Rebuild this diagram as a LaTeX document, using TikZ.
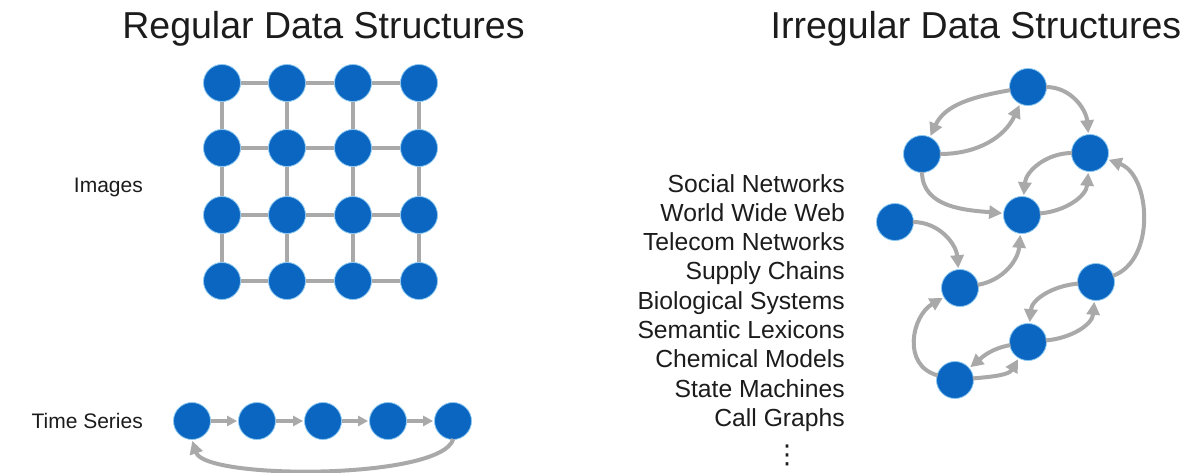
\documentclass[tikz,border=0pt]{standalone}
\usepackage{fontspec}
\setmainfont{Liberation Sans}
\newfontfamily\symfont{DejaVu Sans}
\usetikzlibrary{arrows.meta}
\definecolor{nodeblue}{HTML}{0B66C2}
\definecolor{halo}{HTML}{8CC8F0}
\definecolor{edgegray}{HTML}{A9A9A9}
\definecolor{txt}{HTML}{1C1C1C}
\begin{document}
\begin{tikzpicture}[x=1pt,y=1pt,
  dot/.style={circle,fill=nodeblue,draw=halo,line width=0.8pt,minimum size=37pt,inner sep=0pt},
  gridline/.style={draw=edgegray,line width=4pt},
  arr/.style={draw=edgegray,line width=4pt,-{Triangle[length=13pt,width=13pt]},shorten >=1pt,shorten <=-1pt},
  arrs/.style={draw=edgegray,line width=3.5pt,-{Triangle[length=10pt,width=10pt]},shorten >=1pt},
  title/.style={font=\fontsize{37.5}{40}\selectfont,text=txt,inner sep=0pt,anchor=base},
  lbl/.style={font=\fontsize{21}{24}\selectfont,text=txt,inner sep=0pt,anchor=base east},
  item/.style={font=\fontsize{24.7}{28}\selectfont,text=txt,inner sep=0pt,anchor=base east}]
\fill[white] (0,0) rectangle (1188,-472);
\useasboundingbox (0,0) rectangle (1188,-472);

% titles
\node[title] (t-reg) at (323.5,-38) {Regular Data Structures};
\node[title] (t-irr) at (976,-38) {Irregular Data Structures};

% labels
\node[lbl] (l-img) at (143,-192) {Images};
\node[lbl] (l-ts) at (143,-428.5) {Time Series};

% grid
\foreach \i/\x in {1/222,2/287,3/353,4/419}
  \foreach \j/\y in {1/83,2/148,3/215,4/281}
    \node[dot] (g\i\j) at (\x,-\y) {};
\foreach \j in {1,2,3,4}{
  \draw[gridline] (g1\j) -- (g2\j);
  \draw[gridline] (g2\j) -- (g3\j);
  \draw[gridline] (g3\j) -- (g4\j);
  \draw[gridline] (g\j1) -- (g\j2);
  \draw[gridline] (g\j2) -- (g\j3);
  \draw[gridline] (g\j3) -- (g\j4);
}

% time series
\foreach \k/\x in {1/192,2/257,3/323,4/388,5/453}
  \node[dot] (ts\k) at (\x,-421) {};
\draw[arrs] (ts1) -- (ts2);
\draw[arrs] (ts2) -- (ts3);
\draw[arrs] (ts3) -- (ts4);
\draw[arrs] (ts4) -- (ts5);
\draw[arr] (ts5.south) .. controls (442,-480) and (205,-480) .. (ts1.south);

% list
\foreach \t [count=\n from 0] in {Social Networks,World Wide Web,Telecom Networks,Supply Chains,Biological Systems,Semantic Lexicons,Chemical Models,State Machines,Call Graphs}
  \node[item] (it\n) at (845,-192-29.3*\n) {\t};
\node[text=txt,inner sep=0pt,font=\symfont\fontsize{26}{28}\selectfont] (vd) at (787,-455) {⋮};

% irregular graph
\node[dot] (nA) at (1028,-87) {};
\node[dot] (nB) at (922,-154) {};
\node[dot] (nC) at (1090,-153) {};
\node[dot] (nD) at (1022,-215) {};
\node[dot] (nE) at (895,-222) {};
\node[dot] (nF) at (960,-288) {};
\node[dot] (nG) at (1096,-282) {};
\node[dot] (nH) at (1028,-342) {};
\node[dot] (nI) at (955,-380) {};

\draw[arr] (nA) to[out=190,in=65] (nB);
\draw[arr] (nB) to[out=0,in=-115] (nA);
\draw[arr] (nA) to[out=0,in=95] (nC);
\draw[arr] (nB) to[out=-90,in=175] (nD);
\draw[arr] (nC) to[out=180,in=85] (nD);
\draw[arr] (nD) to[out=5,in=-95] (nC);
\draw[arr] (nE) to[out=0,in=95] (nF);
\draw[arr] (nF) to[out=10,in=-95] (nD);
\draw[arr] (nG) to[out=20,in=-20] (nC);
\draw[arr] (nG) to[out=185,in=85] (nH);
\draw[arr] (nH) to[out=5,in=-95] (nG);
\draw[arr] (nH) to[out=190,in=40] (nI);
\draw[arr] (nI) to[out=5,in=-120] (nH);
\draw[arr] (nI) to[out=165,in=210,looseness=1.2] (nF);
\end{tikzpicture}
\end{document}
